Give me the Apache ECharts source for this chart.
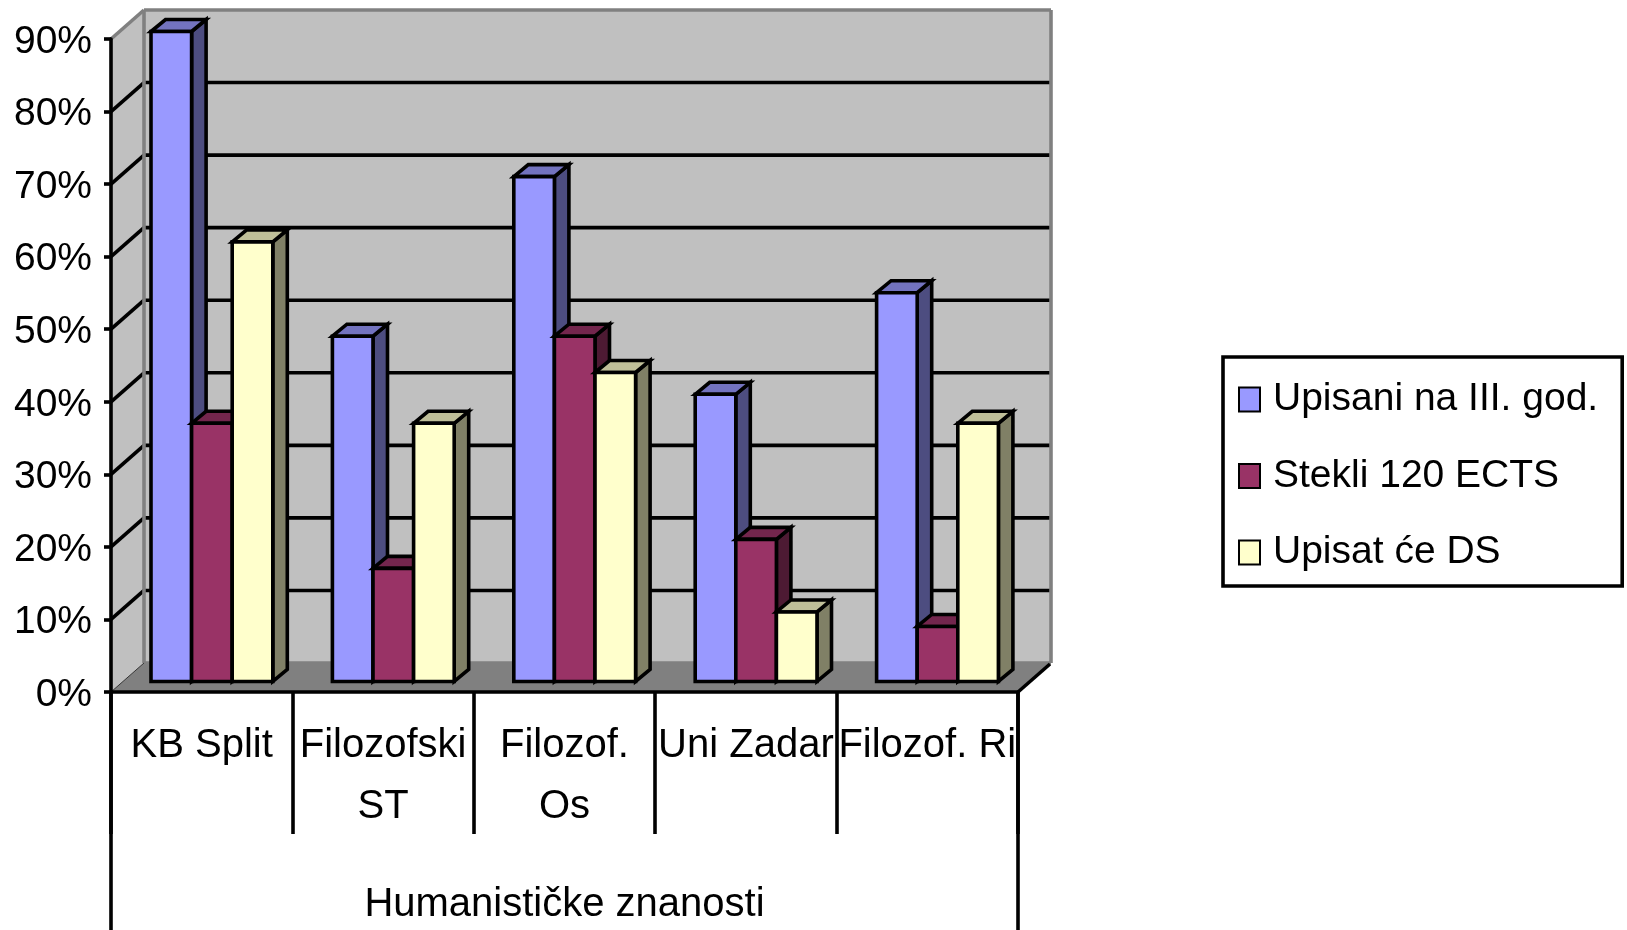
<!DOCTYPE html>
<html>
<head>
<meta charset="utf-8">
<title>Humanističke znanosti</title>
<script src="https://cdn.jsdelivr.net/npm/echarts@6/dist/echarts.min.js"></script>
<style>
    html, body { margin: 0; padding: 0; background: #fff; }
    #chart { width: 1627px; height: 930px; }
</style>
</head>
<body>
<div id="chart"></div>
<script>
const categories = ["KB Split", "Filozofski\nST", "Filozof.\nOs", "Uni Zadar", "Filozof. Ri"];
const groupLabel = ["Humanističke znanosti"];
const upisani = [90, 48, 70, 40, 54];
const stekli = [36, 16, 48, 20, 8];
const upisatCe = [61, 36, 43, 10, 36];
const wallTicks = [10, 20, 30, 40, 50, 60, 70, 80];

const FONT = "Liberation Sans";
const FONT_SIZE = 40;
const LINE_W = 3.6;

// oblique 3D look, offsets in pixels
const WALL_DX = 33;
const WALL_DY = 29;
const BAR_SHIFT_X = 40; // first bar, from the left of its category
const BAR_SHIFT_Y = 7.5; // bars stand a bit behind the front edge
const BAR_FOOT = 3; // visible bottom of a bar sits a little above its zero
const BAR_W = 40.6;
const BAR_DX = 14.5;
const BAR_DY = 12;

const line = (x1, y1, x2, y2, stroke, width) => ({
    type: "line",
    shape: { x1, y1, x2, y2 },
    style: { stroke, lineWidth: width || LINE_W }
});

const poly = (points, fill, stroke) => ({
    type: "polygon",
    shape: { points },
    style: { fill, stroke: stroke || null, lineWidth: stroke ? LINE_W : 0, lineJoin: "miter" }
});

// walls and floor
const renderWalls = (params, api) => {
    const g = params.coordSys;
    const l = g.x, r = g.x + g.width, t = g.y, b = g.y + g.height;
    const dx = WALL_DX, dy = WALL_DY;
    const children = [
        poly([[l + dx, t - dy], [r + dx, t - dy], [r + dx, b - dy], [l + dx, b - dy]], "#c0c0c0"),
        poly([[l, t], [l + dx, t - dy], [l + dx, b - dy], [l, b]], "#c0c0c0"),
        poly([[l, b], [l + dx, b - dy], [r + dx, b - dy], [r, b]], "#808080")
    ];
    wallTicks.forEach(v => {
        const y = api.coord([0, v])[1];
        children.push(line(l, y, l + dx, y - dy, "#000"));
        children.push(line(l + dx, y - dy, r + dx, y - dy, "#000"));
    });
    children.push(line(l, t, l + dx, t - dy, "#808080"));
    children.push(line(l + dx, t - dy, r + dx, t - dy, "#808080"));
    children.push(line(l + dx, t - dy, l + dx, b - dy, "#808080"));
    children.push(line(r + dx, t - dy, r + dx, b - dy, "#808080"));
    children.push(line(l + dx, b - dy, r + dx, b - dy, "#808080"));
    children.push(line(l, b, l + dx, b - dy, "#333", 1));
    children.push(line(r, b, r + dx - 1, b - dy + 1, "#000"));
    return { type: "group", children };
};

// one 3D bar: front, side, top
const renderBar = (index, colors) => (params, api) => {
    const cat = api.value(0);
    const base = api.coord([cat, 0]);
    const top = api.coord([cat, api.value(1)]);
    const catW = api.size([1, 0])[0];
    const x0 = base[0] - catW / 2 + BAR_SHIFT_X + index * BAR_W;
    const x1 = x0 + BAR_W;
    const y0 = base[1] - BAR_SHIFT_Y - BAR_FOOT;
    const y1 = top[1] - BAR_SHIFT_Y;
    const dx = BAR_DX, dy = BAR_DY;
    return {
        type: "group",
        children: [
            poly([[x1, y1], [x1 + dx, y1 - dy], [x1 + dx, y0 - dy], [x1, y0]], colors.side, "#000"),
            poly([[x0, y1], [x0 + dx, y1 - dy], [x1 + dx, y1 - dy], [x1, y1]], colors.top, "#000"),
            poly([[x0, y1], [x1, y1], [x1, y0], [x0, y0]], colors.front, "#000")
        ]
    };
};

const barSeries = (name, values, index, colors) => ({
    name,
    type: "custom",
    z: 3,
    xAxisIndex: 0,
    yAxisIndex: 0,
    renderItem: renderBar(index, colors),
    encode: { x: 0, y: 1 },
    itemStyle: { color: colors.front, borderColor: "#000", borderWidth: LINE_W },
    data: values.map((v, i) => [i, v])
});

const chart = echarts.init(document.getElementById("chart"), null, { renderer: "canvas" });

chart.setOption({
    animation: false,
    backgroundColor: "#fff",
    textStyle: { fontFamily: FONT, color: "#000" },
    grid: { left: 111, top: 39, width: 907, height: 653.7, containLabel: false },
    legend: {
        data: ["Upisani na III. god.", "Stekli 120 ECTS", "Upisat će DS"],
        orient: "vertical",
        left: 1223,
        top: 357,
        icon: "rect",
        itemWidth: 21,
        itemHeight: 24,
        itemGap: 37.5,
        padding: [23, 24, 14, 15],
        borderColor: "#000",
        borderWidth: LINE_W,
        selectedMode: false,
        textStyle: { fontFamily: FONT, fontSize: 39, lineHeight: 27, color: "#000", padding: [0, 0, 0, 8] }
    },
    xAxis: [
        {
            type: "category",
            position: "bottom",
            data: categories,
            z: 10,
            axisLine: { lineStyle: { color: "#000", width: LINE_W } },
            axisTick: { show: true, length: 142, lineStyle: { color: "#000", width: LINE_W } },
            axisLabel: {
                interval: 0,
                margin: 23,
                fontFamily: FONT,
                fontSize: FONT_SIZE,
                lineHeight: 61,
                color: "#000"
            }
        },
        {
            type: "category",
            position: "bottom",
            data: groupLabel,
            z: 10,
            axisLine: { show: false },
            axisTick: { show: true, length: 240, lineStyle: { color: "#000", width: LINE_W } },
            axisLabel: {
                interval: 0,
                margin: 188,
                fontFamily: FONT,
                fontSize: FONT_SIZE,
                lineHeight: 50,
                color: "#000"
            }
        }
    ],
    yAxis: {
        type: "value",
        min: 0,
        max: 90,
        interval: 10,
        z: 10,
        splitLine: { show: false },
        axisLine: { show: true, lineStyle: { color: "#000", width: LINE_W } },
        axisTick: { show: true, length: 7, lineStyle: { color: "#000", width: LINE_W } },
        axisLabel: {
            margin: 19,
            formatter: "{p|{value}%}",
            rich: {
                // pushes the text down to sit on its tick
                p: { fontFamily: FONT, fontSize: 39, color: "#000", padding: [6, 0, 0, 0] }
            }
        }
    },
    series: [
        {
            name: "walls",
            type: "custom",
            z: 1,
            xAxisIndex: 0,
            yAxisIndex: 0,
            silent: true,
            renderItem: renderWalls,
            data: [[0, 0]]
        },
        barSeries("Upisani na III. god.", upisani, 0, { front: "#9999ff", side: "#4d4d80", top: "#7373bf" }),
        barSeries("Stekli 120 ECTS", stekli, 1, { front: "#993366", side: "#4d1a33", top: "#73264d" }),
        barSeries("Upisat će DS", upisatCe, 2, { front: "#ffffcc", side: "#808066", top: "#bfbf99" })
    ]
});

window.addEventListener("resize", () => chart.resize());
</script>
</body>
</html>
